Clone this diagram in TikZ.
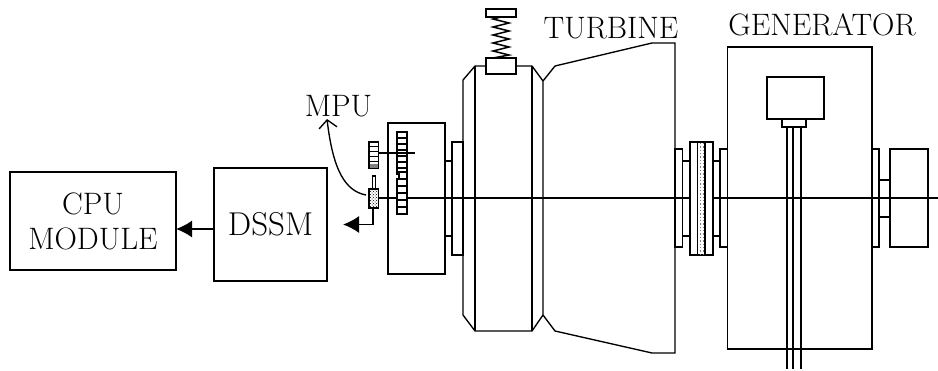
\documentclass[tikz,border=0pt]{standalone}
\usepackage{tikz}
\usepackage{xcolor}
\usetikzlibrary{positioning}
\usetikzlibrary{arrows.meta}
\usetikzlibrary{patterns}

\begin{document}
\begin{tikzpicture}[
x = 1pt, y = -1pt,
every path/.style = {line width = 1.35pt},
  box/.style = {draw, rectangle, inner sep = 0pt, align = center, font = \fontsize{31}{35}\selectfont},
  tag/.style = {inner sep = 0pt, font = \fontsize{31}{35}\selectfont},
  signal/.style = {-{Latex[length=16pt,width=17pt]}, line width = 1.6pt}
]
\useasboundingbox (0,0) rectangle (938,370);

% blocks
\node[box, minimum width = 166, minimum height = 98] (cpu) at (93,221) {CPU\\MODULE};
\node[box, minimum width = 113, minimum height = 113, font = \fontsize{33}{35}\selectfont] (dssm) at (270.5,224.5) {DSSM};
\coordinate (dssmout) at (214,229);
\coordinate (cpuin) at (176,229);
\draw[signal] (dssmout) -- (cpuin);

% labels
\node[tag] (mpulabel) at (338.5,106) {MPU};
\node[tag] (turbinelabel) at (611,28) {TURBINE};
\node[tag] (generatorlabel) at (822,25) {GENERATOR};

% shaft
\coordinate (shaftl) at (378,198);
\coordinate (shaftr) at (938,198);
\draw (shaftl) -- (shaftr);

% gear housing
\draw (388,123) rectangle (445,274);
\draw (445,161) rectangle (452,236);
\draw (452,142) rectangle (463,255);

% toothed wheel
\foreach \y in {132,138,...,168} {
  \draw[fill=white] (397,\y) rectangle (407,\y+6);
}
\draw[fill=white] (399,172) rectangle (407,179);
\foreach \y in {179,186,...,210} {
  \draw[fill=white] (397,\y) rectangle (407,\y+7);
}

% pickups
\draw (378,153) -- (415,153);
\draw[fill=white] (369,142) rectangle (378.5,168);
\foreach \y in {146,151,156,161} {
  \draw[line width=0.9pt] (369,\y) -- (378.5,\y);
}
\fill[gray] (369.5,164) rectangle (378,168);
\draw[fill=white] (372.5,176) rectangle (375.5,189);
\draw[pattern=crosshatch dots] (369,189) rectangle (378.5,208);
\coordinate (pickup) at (373,208);
\coordinate (pickupout) at (343,224.5);
\draw[signal] (pickup) |- (pickupout);
\coordinate (pickupside) at (366,195);
\coordinate (mputip) at (327,119);
\draw[-{Straight Barb[length=8pt,width=18pt]}] (pickupside) .. controls (345,191) and (333,170) .. (mputip);

% turbine casing
\draw (475,66) -- (463,80) -- (463,315) -- (475,331) -- (532,331) -- (543,315) -- (543,81) -- (532,66) -- cycle;
\draw (475,66) -- (475,331);
\draw (532,66) -- (532,331);
\draw (543,81) -- (555,66) -- (652,43) -- (675,43) -- (675,353) -- (652,353) -- (555,331) -- (543,315);

% governor spring
\draw[fill=white] (486,58) rectangle (516,74);
\draw (486,9) rectangle (516,17);
\draw[line width=1.5pt] (501,17) -- (493,19) -- (509,23) -- (493,27) -- (509,31) -- (493,35) -- (509,39) -- (493,43) -- (509,47) -- (493,51) -- (509,55) -- (493,58);

% coupling
\draw (675,149) rectangle (682.5,247);
\draw (682.5,161) rectangle (690,236);
\draw[fill=white] (690,142) rectangle (713,255);
\draw (697.5,142) rectangle (705,255);
\foreach \x in {700,703} {
  \draw[gray, dotted, line width=0.8pt] (\x,143) -- (\x,254);
}
\draw (713,161) rectangle (720,236);
\draw (720,149) rectangle (727.5,247);

% generator
\draw (727.5,47) rectangle (872,349);
\draw[fill=white] (767,77) rectangle (824,119);
\draw[fill=white] (782,119) rectangle (806,127);
\foreach \x in {787,793,801} {
  \draw (\x,127) -- (\x,369);
}
\draw (872,149) rectangle (879,247);
\draw (879,180) rectangle (890,217);
\draw (890,149) rectangle (928,247);
\end{tikzpicture}
\end{document}
